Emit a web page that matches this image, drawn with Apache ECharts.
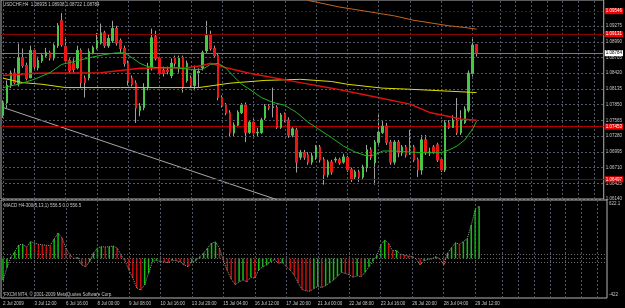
<!DOCTYPE html>
<html>
<head>
<meta charset="utf-8">
<script src="https://cdn.jsdelivr.net/npm/echarts@6/dist/echarts.min.js"></script>
<style>
html, body { margin: 0; padding: 0; background: #000; }
#chart { width: 625px; height: 308px; }
</style>
</head>
<body>
<div id="chart"></div>
<script>
// slots on the time axis (bars + empty shift area on the right)
const barCount = 154;
const tickIdx = [0, 8, 16, 24, 32, 40, 48, 56, 64, 72, 80, 88, 96, 104, 112, 120];
const tickLabels = ['2 Jul 2009', '3 Jul 12:00', '6 Jul 16:00', '8 Jul 00:00', '9 Jul 08:00', '10 Jul 16:00',
    '13 Jul 20:00', '15 Jul 04:00', '16 Jul 12:00', '17 Jul 20:00', '21 Jul 00:00', '22 Jul 08:00',
    '23 Jul 16:00', '26 Jul 20:00', '28 Jul 04:00', '29 Jul 12:00'];
const shiftGridIdx = [127, 131, 135, 139, 143, 147, 151];

const priceTicks = [1.09275, 1.08990, 1.08705, 1.08420, 1.08135, 1.07850, 1.07565, 1.07280,
    1.06995, 1.06710, 1.06425, 1.06140];
const levelPrices = [1.09546, 1.09131, 1.07453, 1.06497];
const bidPrice = 1.08784;

// [open, close, low, high]
const candles = [
    [1.0766, 1.0788, 1.0761, 1.0793], [1.0789, 1.0820, 1.0779, 1.0829], [1.0820, 1.0842, 1.0815, 1.0847],
    [1.0842, 1.0825, 1.0822, 1.0851], [1.0824, 1.0870, 1.0818, 1.0896], [1.0870, 1.0856, 1.0852, 1.0887],
    [1.0856, 1.0833, 1.0829, 1.0861], [1.0834, 1.0883, 1.0833, 1.0892], [1.0883, 1.0854, 1.0847, 1.0887],
    [1.0852, 1.0865, 1.0847, 1.0872], [1.0865, 1.0874, 1.0861, 1.0879], [1.0874, 1.0879, 1.0870, 1.0888],
    [1.0879, 1.0870, 1.0865, 1.0883], [1.0870, 1.0892, 1.0865, 1.0896], [1.0892, 1.0928, 1.0888, 1.0933],
    [1.0937, 1.0894, 1.0890, 1.0951], [1.0890, 1.0865, 1.0861, 1.0906], [1.0865, 1.0847, 1.0843, 1.0869],
    [1.0860, 1.0849, 1.0843, 1.0869], [1.0852, 1.0883, 1.0849, 1.0892], [1.0883, 1.0825, 1.0815, 1.0887],
    [1.0833, 1.0825, 1.0798, 1.0838], [1.0834, 1.0881, 1.0829, 1.0887], [1.0879, 1.0888, 1.0876, 1.0892],
    [1.0888, 1.0901, 1.0885, 1.0915], [1.0897, 1.0915, 1.0894, 1.0932], [1.0915, 1.0892, 1.0888, 1.0919],
    [1.0892, 1.0905, 1.0888, 1.0912], [1.0901, 1.0923, 1.0897, 1.0937], [1.0923, 1.0897, 1.0892, 1.0928],
    [1.0901, 1.0887, 1.0879, 1.0905], [1.0887, 1.0860, 1.0854, 1.0892], [1.0860, 1.0829, 1.0820, 1.0865],
    [1.0833, 1.0822, 1.0818, 1.0838], [1.0824, 1.0779, 1.0752, 1.0829], [1.0775, 1.0782, 1.0764, 1.0788],
    [1.0780, 1.0816, 1.0775, 1.0824], [1.0816, 1.0852, 1.0811, 1.0861], [1.0852, 1.0906, 1.0847, 1.0923],
    [1.0908, 1.0869, 1.0865, 1.0919], [1.0869, 1.0842, 1.0838, 1.0872], [1.0847, 1.0842, 1.0836, 1.0854],
    [1.0847, 1.0845, 1.0840, 1.0854], [1.0838, 1.0860, 1.0833, 1.0869], [1.0869, 1.0860, 1.0854, 1.0874],
    [1.0851, 1.0869, 1.0843, 1.0874], [1.0870, 1.0816, 1.0807, 1.0874], [1.0829, 1.0860, 1.0825, 1.0865],
    [1.0833, 1.0820, 1.0815, 1.0838], [1.0820, 1.0847, 1.0811, 1.0856], [1.0843, 1.0845, 1.0816, 1.0851],
    [1.0852, 1.0879, 1.0847, 1.0883], [1.0883, 1.0910, 1.0879, 1.0937], [1.0910, 1.0887, 1.0883, 1.0919],
    [1.0887, 1.0874, 1.0870, 1.0892], [1.0874, 1.0798, 1.0793, 1.0879], [1.0798, 1.0784, 1.0780, 1.0802],
    [1.0784, 1.0770, 1.0766, 1.0788], [1.0770, 1.0734, 1.0726, 1.0775], [1.0734, 1.0748, 1.0728, 1.0753],
    [1.0748, 1.0771, 1.0744, 1.0775], [1.0771, 1.0784, 1.0768, 1.0788], [1.0784, 1.0735, 1.0717, 1.0789],
    [1.0735, 1.0753, 1.0732, 1.0757], [1.0753, 1.0734, 1.0728, 1.0761], [1.0734, 1.0735, 1.0728, 1.0743],
    [1.0735, 1.0757, 1.0732, 1.0761], [1.0761, 1.0782, 1.0757, 1.0786], [1.0782, 1.0779, 1.0775, 1.0786],
    [1.0780, 1.0781, 1.0762, 1.0816], [1.0780, 1.0744, 1.0741, 1.0784], [1.0744, 1.0766, 1.0741, 1.0770],
    [1.0768, 1.0757, 1.0753, 1.0771], [1.0757, 1.0730, 1.0725, 1.0762], [1.0730, 1.0741, 1.0726, 1.0744],
    [1.0739, 1.0681, 1.0662, 1.0743], [1.0690, 1.0698, 1.0685, 1.0703], [1.0698, 1.0690, 1.0685, 1.0703],
    [1.0694, 1.0681, 1.0676, 1.0699], [1.0681, 1.0692, 1.0676, 1.0698], [1.0690, 1.0708, 1.0685, 1.0712],
    [1.0708, 1.0685, 1.0680, 1.0712], [1.0685, 1.0658, 1.0640, 1.0690], [1.0658, 1.0681, 1.0653, 1.0685],
    [1.0681, 1.0663, 1.0658, 1.0685], [1.0685, 1.0686, 1.0680, 1.0690], [1.0685, 1.0680, 1.0676, 1.0689],
    [1.0681, 1.0690, 1.0678, 1.0696], [1.0689, 1.0667, 1.0663, 1.0692], [1.0667, 1.0651, 1.0645, 1.0671],
    [1.0654, 1.0663, 1.0649, 1.0667], [1.0663, 1.0654, 1.0645, 1.0667], [1.0654, 1.0672, 1.0649, 1.0676],
    [1.0671, 1.0703, 1.0663, 1.0712], [1.0703, 1.0690, 1.0685, 1.0708], [1.0680, 1.0717, 1.0640, 1.0721],
    [1.0717, 1.0735, 1.0712, 1.0770], [1.0735, 1.0746, 1.0732, 1.0757], [1.0746, 1.0717, 1.0712, 1.0752],
    [1.0717, 1.0681, 1.0676, 1.0721], [1.0681, 1.0717, 1.0676, 1.0721], [1.0717, 1.0698, 1.0690, 1.0721],
    [1.0698, 1.0708, 1.0692, 1.0712], [1.0708, 1.0694, 1.0689, 1.0712], [1.0708, 1.0709, 1.0694, 1.0739],
    [1.0708, 1.0685, 1.0681, 1.0712], [1.0685, 1.0667, 1.0654, 1.0689], [1.0667, 1.0721, 1.0658, 1.0730],
    [1.0721, 1.0698, 1.0694, 1.0730], [1.0698, 1.0699, 1.0692, 1.0707], [1.0708, 1.0699, 1.0696, 1.0712],
    [1.0712, 1.0685, 1.0681, 1.0716], [1.0685, 1.0667, 1.0663, 1.0689], [1.0667, 1.0752, 1.0663, 1.0757],
    [1.0752, 1.0744, 1.0741, 1.0757], [1.0744, 1.0757, 1.0743, 1.0766], [1.0757, 1.0734, 1.0730, 1.0797],
    [1.0734, 1.0757, 1.0730, 1.0775], [1.0753, 1.0777, 1.0750, 1.0782], [1.0775, 1.0842, 1.0771, 1.0847],
    [1.0842, 1.0893, 1.0836, 1.0905], [1.08935, 1.08784, 1.08722, 1.08938]
];

// moving averages: [bar index, price]
const maGreen = [[0, 1.0816], [4, 1.0822], [8, 1.0831], [12, 1.0843], [15, 1.0858], [18, 1.0863], [22, 1.0870],
    [26, 1.0876], [29, 1.0879], [31, 1.0879], [33, 1.0870], [35, 1.0860], [37, 1.0854], [40, 1.0852], [44, 1.0852],
    [48, 1.0849], [51, 1.0849], [53, 1.0858], [55, 1.0860], [57, 1.0851], [59, 1.0836], [61, 1.0822], [63, 1.0813],
    [66, 1.0798], [69, 1.0789], [72, 1.0784], [75, 1.0771], [78, 1.0753], [81, 1.0739], [84, 1.0725], [87, 1.0710],
    [90, 1.0699], [93, 1.0692], [95, 1.0694], [97, 1.0701], [100, 1.0701], [104, 1.0699], [108, 1.0698],
    [112, 1.0698], [114, 1.0703], [116, 1.0710], [118, 1.0721], [120, 1.0741], [121, 1.0755]];
const maRed = [[0, 1.0838], [8, 1.0842], [25, 1.0843], [35, 1.0851], [47, 1.0852], [51, 1.0856], [53, 1.0860],
    [57, 1.0852], [63, 1.0842], [76, 1.0825], [84, 1.0815], [93, 1.0802], [104, 1.0786], [109, 1.0771],
    [117, 1.0759], [121, 1.0757]];
const maYellow = [[0, 1.0833], [5, 1.0825], [10, 1.0822], [16, 1.0816], [30, 1.0816], [50, 1.0816], [58, 1.0824],
    [67, 1.0829], [76, 1.0831], [84, 1.0827], [88, 1.0822], [97, 1.0815], [104, 1.0813], [121, 1.0807]];
const maOrange = [[78, 1.0974], [86, 1.0962], [94, 1.0953], [100, 1.0946], [105, 1.0938], [114, 1.0928],
    [118, 1.0925], [121, 1.0922]];
const trendLine = [[0, 1.0780], [72, 1.0608]];

// MACD histogram, one value per bar
const macd = [-230, -100, 15, 71, 143, 150, 121, 178, 164, 150, 145, 140, 138, 206, 270, 217, 110, 36, 0, 10,
    -70, -88, -35, 57, 110, 125, 121, 125, 132, 110, 36, -25, -124, -210, -316, -336, -283, -156, -35, -20,
    -35, -38, -45, -20, -25, -35, -70, -88, -40, -25, 18, 57, 110, 163, 175, 110, -20, -130, -220, -280,
    -250, -230, -250, -200, -210, -124, -90, -70, -35, -15, -50, -45, -88, -124, -177, -260, -330, -345, -350, -320,
    -300, -310, -290, -260, -230, -190, -150, -160, -175, -200, -185, -195, -150, -90, -30, 30, 140, 195, 160, 80,
    85, 45, 35, 25, 20, -5, -70, -25, -10, -5, 18, -5, -70, 57, 114, 167, 150, 178, 213, 355, 515, 556.5];
const macdLevels = [40, 0, -40];
const macdTicks = [622.1, -422];

const tickMap = {};
tickIdx.forEach((i, k) => { tickMap[i] = tickLabels[k]; });
const categories = [];
for (let i = 0; i < barCount; i++) {
    categories.push(tickMap[i] !== undefined ? tickMap[i] : 'b' + i);
}
const gridIdx = tickIdx.concat(shiftGridIdx);

const bodies = candles.map(c => [c[0], c[1], Math.min(c[0], c[1]), Math.max(c[0], c[1])]);

const txt = '#c8c8c8';
const font = 'Liberation Sans, Arial, sans-serif';
const gridLine = { color: '#4e5763', type: [2, 2], width: 1 };

const vGrid = gridIdx.map(i => ({ xAxis: i }));
const hGrid = priceTicks.map(p => ({ yAxis: p }));

const levelColors = ['#7a0000', '#8c0000', '#b40000', '#840000'];
const levelLines = levelPrices.map((p, k) => ({
    yAxis: p,
    lineStyle: { color: levelColors[k], type: k === 0 ? [2, 2] : 'solid', width: 1 },
    label: {
        show: true, position: 'end', distance: 1, formatter: p.toFixed(5),
        backgroundColor: '#f00000', color: '#ffffff', fontSize: 4.5, fontFamily: font, padding: [1, 1, 0, 1]
    }
}));
levelLines.push({
    yAxis: bidPrice,
    lineStyle: { color: '#7c7c7c', type: 'solid', width: 1 },
    label: {
        show: true, position: 'end', distance: 1, formatter: bidPrice.toFixed(5),
        backgroundColor: '#ffffff', color: '#000000', fontSize: 4.5, fontFamily: font, padding: [1, 1, 0, 1]
    }
});

let dom = document.getElementById('chart');
let myChart = echarts.init(dom, null, { renderer: 'canvas' });

option = {
    animation: false,
    backgroundColor: '#000000',
    textStyle: { fontFamily: font },
    grid: [
        { left: 1, top: -1, width: 606, height: 200, show: true, borderColor: '#b4b4b4', borderWidth: 1 },
        { left: 1, top: 200, width: 606, height: 98, show: true, borderColor: '#b4b4b4', borderWidth: 1 }
    ],
    xAxis: [
        {
            type: 'category', gridIndex: 0, data: categories, boundaryGap: true,
            axisLine: { show: false }, axisTick: { show: false }, axisLabel: { show: false }, splitLine: { show: false }
        },
        {
            type: 'category', gridIndex: 1, data: categories, boundaryGap: true,
            axisLine: { show: false }, axisTick: { show: false }, splitLine: { show: false },
            axisLabel: {
                show: true, interval: (i) => tickMap[i] !== undefined,
                formatter: (v, i) => tickMap[i] || '',
                align: 'left', color: txt, fontSize: 4.5, fontFamily: font, margin: 3
            }
        }
    ],
    yAxis: [
        {
            type: 'value', gridIndex: 0, position: 'right', min: 1.0614, max: 1.09748,
            axisLine: { show: false }, axisTick: { show: false }, splitLine: { show: false },
            axisLabel: {
                customValues: priceTicks, formatter: v => v.toFixed(5),
                color: txt, fontSize: 4.5, fontFamily: font, margin: 2, align: 'left'
            }
        },
        {
            type: 'value', gridIndex: 1, position: 'right', min: -422, max: 622.1,
            axisLine: { show: false }, axisTick: { show: false }, splitLine: { show: false },
            axisLabel: {
                customValues: macdTicks,
                formatter: v => (v > 0 ? '{t|' + v + '}' : '{b|' + v + '}'),
                margin: 2, align: 'left',
                rich: {
                    t: { color: txt, fontSize: 4.5, fontFamily: font, padding: [7, 0, 0, 0] },
                    b: { color: txt, fontSize: 4.5, fontFamily: font, padding: [0, 0, 7, 0] }
                }
            }
        }
    ],
    graphic: [
        { type: 'text', left: 3, top: 2, style: { text: 'USDCHF,H4  1.08935 1.08938 1.08722 1.08784', fill: txt, font: '4.5px ' + font } },
        { type: 'text', left: 4, top: 203, style: { text: 'MACD H4-300(5,13,1) 556.5 0.0 556.5', fill: txt, font: '4.5px ' + font } },
        { type: 'text', left: 4, top: 292, style: { text: 'FXCM MT4, \u00a9 2001-2009 MetaQuotes Software Corp.', fill: txt, font: '4.5px ' + font } }
    ],
    series: [
        {
            name: 'grid-main', type: 'line', xAxisIndex: 0, yAxisIndex: 0, data: [], z: 1,
            markLine: { silent: true, precision: 6, symbol: ['none', 'none'], label: { show: false }, lineStyle: gridLine, data: vGrid.concat(hGrid) }
        },
        {
            name: 'grid-macd', type: 'line', xAxisIndex: 1, yAxisIndex: 1, data: [], z: 1,
            markLine: {
                silent: true, precision: 6, symbol: ['none', 'none'], label: { show: false }, lineStyle: gridLine,
                data: vGrid.concat(macdLevels.map(v => ({ yAxis: v, lineStyle: { color: '#6e6e6e', type: [1, 2], width: 1 } })))
            }
        },
        {
            name: 'levels', type: 'line', xAxisIndex: 0, yAxisIndex: 0, data: [], z: 2,
            markLine: { silent: true, precision: 6, symbol: ['none', 'none'], data: levelLines }
        },
        {
            name: 'Trend', type: 'line', xAxisIndex: 0, yAxisIndex: 0, data: trendLine, showSymbol: false,
            lineStyle: { color: '#a8a8a8', width: 1 }, z: 3
        },
        {
            name: 'Wicks', type: 'candlestick', xAxisIndex: 0, yAxisIndex: 0, data: candles, barWidth: 2, z: 4,
            itemStyle: { color: 'rgba(0,0,0,0)', color0: 'rgba(0,0,0,0)', borderColor: '#a0a0a0', borderColor0: '#a0a0a0', borderWidth: 1 }
        },
        {
            name: 'Bodies', type: 'candlestick', xAxisIndex: 0, yAxisIndex: 0, data: bodies, barWidth: 2, z: 5,
            itemStyle: { color: '#46c846', color0: '#f01414', borderColor: '#46c846', borderColor0: '#f01414', borderWidth: 1 }
        },
        {
            name: 'MA yellow', type: 'line', xAxisIndex: 0, yAxisIndex: 0, data: maYellow, showSymbol: false,
            lineStyle: { color: '#dede00', width: 1 }, z: 6
        },
        {
            name: 'MA red', type: 'line', xAxisIndex: 0, yAxisIndex: 0, data: maRed, showSymbol: false,
            lineStyle: { color: '#e01010', width: 1.5 }, z: 6
        },
        {
            name: 'MA green', type: 'line', xAxisIndex: 0, yAxisIndex: 0, data: maGreen, showSymbol: false,
            lineStyle: { color: '#22b422', width: 1 }, z: 6
        },
        {
            name: 'MA orange', type: 'line', xAxisIndex: 0, yAxisIndex: 0, data: maOrange, showSymbol: false,
            lineStyle: { color: '#c8641e', width: 1 }, z: 6
        },
        {
            name: 'MACD', type: 'bar', xAxisIndex: 1, yAxisIndex: 1, data: macd, barWidth: 1.5, z: 4,
            itemStyle: {
                color: (p) => (p.dataIndex === 0 || macd[p.dataIndex] >= macd[p.dataIndex - 1]) ? '#10c010' : '#c81010'
            }
        },
        {
            name: 'MACD line', type: 'line', xAxisIndex: 1, yAxisIndex: 1, data: macd, showSymbol: false,
            lineStyle: { color: '#9a9a9a', width: 1, type: [1, 1] }, z: 5
        }
    ]
};

if (option && typeof option === 'object') {
    myChart.setOption(option);
}
window.addEventListener('resize', myChart.resize);
</script>
</body>
</html>
